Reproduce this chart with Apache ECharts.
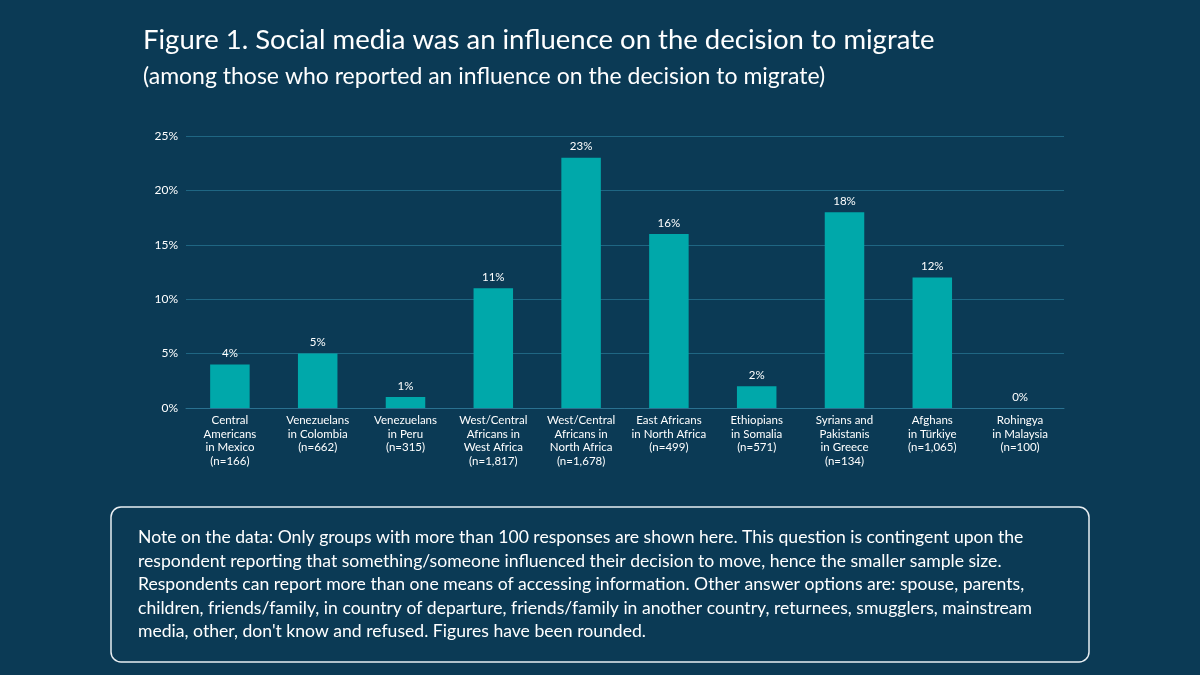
<!DOCTYPE html>
<html><head><meta charset="utf-8">
<script src="https://cdn.jsdelivr.net/npm/echarts@6/dist/echarts.min.js"></script>
<style>html,body{margin:0;padding:0;background:#0b3a55}#c{width:1200px;height:675px}</style>
</head><body><div id="c"></div>
<script>
const categories = ["Central\nAmericans\nin Mexico\n(n=166)","Venezuelans\nin Colombia\n(n=662)","Venezuelans\nin Peru\n(n=315)","West/Central\nAfricans in\nWest Africa\n(n=1,817)","West/Central\nAfricans in\nNorth Africa\n(n=1,678)","East Africans\nin North Africa\n(n=499)","Ethiopians\nin Somalia\n(n=571)","Syrians and\nPakistanis\nin Greece\n(n=134)","Afghans\nin Türkiye\n(n=1,065)","Rohingya\nin Malaysia\n(n=100)"];
const values = [4,5,1,11,23,16,2,18,12,0];
const title = "Figure 1. Social media was an influence on the decision to migrate";
const subtitle = "(among those who reported an influence on the decision to migrate)";
const note = "Note on the data: Only groups with more than 100 responses are shown here. This question is contingent upon the\nrespondent reporting that something/someone influenced their decision to move, hence the smaller sample size.\nRespondents can report more than one means of accessing information. Other answer options are: spouse, parents,\nchildren, friends/family, in country of departure, friends/family in another country, returnees, smugglers, mainstream\nmedia, other, don't know and refused. Figures have been rounded.";
const chart = echarts.init(document.getElementById('c'));
const F = 'Lato, "Open Sans", sans-serif';
chart.setOption({
  backgroundColor:'#0b3a55',
  textStyle:{fontFamily:F},
  title:[
    {text:title,left:138,top:21,textStyle:{color:'#fff',fontSize:27.5,fontWeight:'normal',fontFamily:F}},
    {text:subtitle,left:138,top:60,textStyle:{color:'#fff',fontSize:23,fontWeight:'normal',fontFamily:F}}
  ],
  grid:{left:186,right:136,top:136,bottom:267,containLabel:false},
  xAxis:{type:'category',data:categories,axisTick:{show:false},
    axisLine:{lineStyle:{color:'#2a7190'}},
    axisLabel:{color:'#fff',fontSize:11.5,lineHeight:13.5,interval:0,margin:6}},
  yAxis:{type:'value',min:0,max:25,interval:5,
    axisLabel:{formatter:'{value}%',color:'#fff',fontSize:12},
    splitLine:{lineStyle:{color:'#1f6683'}},axisLine:{show:false},axisTick:{show:false}},
  series:[{type:'bar',data:values,barWidth:'45%',itemStyle:{color:'#00a8aa'},
    label:{show:true,position:'top',formatter:'{c}%',color:'#fff',fontSize:11.5,distance:5}}],
  graphic:[
    {type:'rect',shape:{x:111,y:507,width:978,height:155,r:10},style:{fill:'none',stroke:'#e8eef2',lineWidth:1.5}},
    {type:'text',left:138,top:526,style:{text:note,fill:'#fff',fontSize:17.6,lineHeight:23.5,fontFamily:F}}
  ]
});
</script></body></html>
